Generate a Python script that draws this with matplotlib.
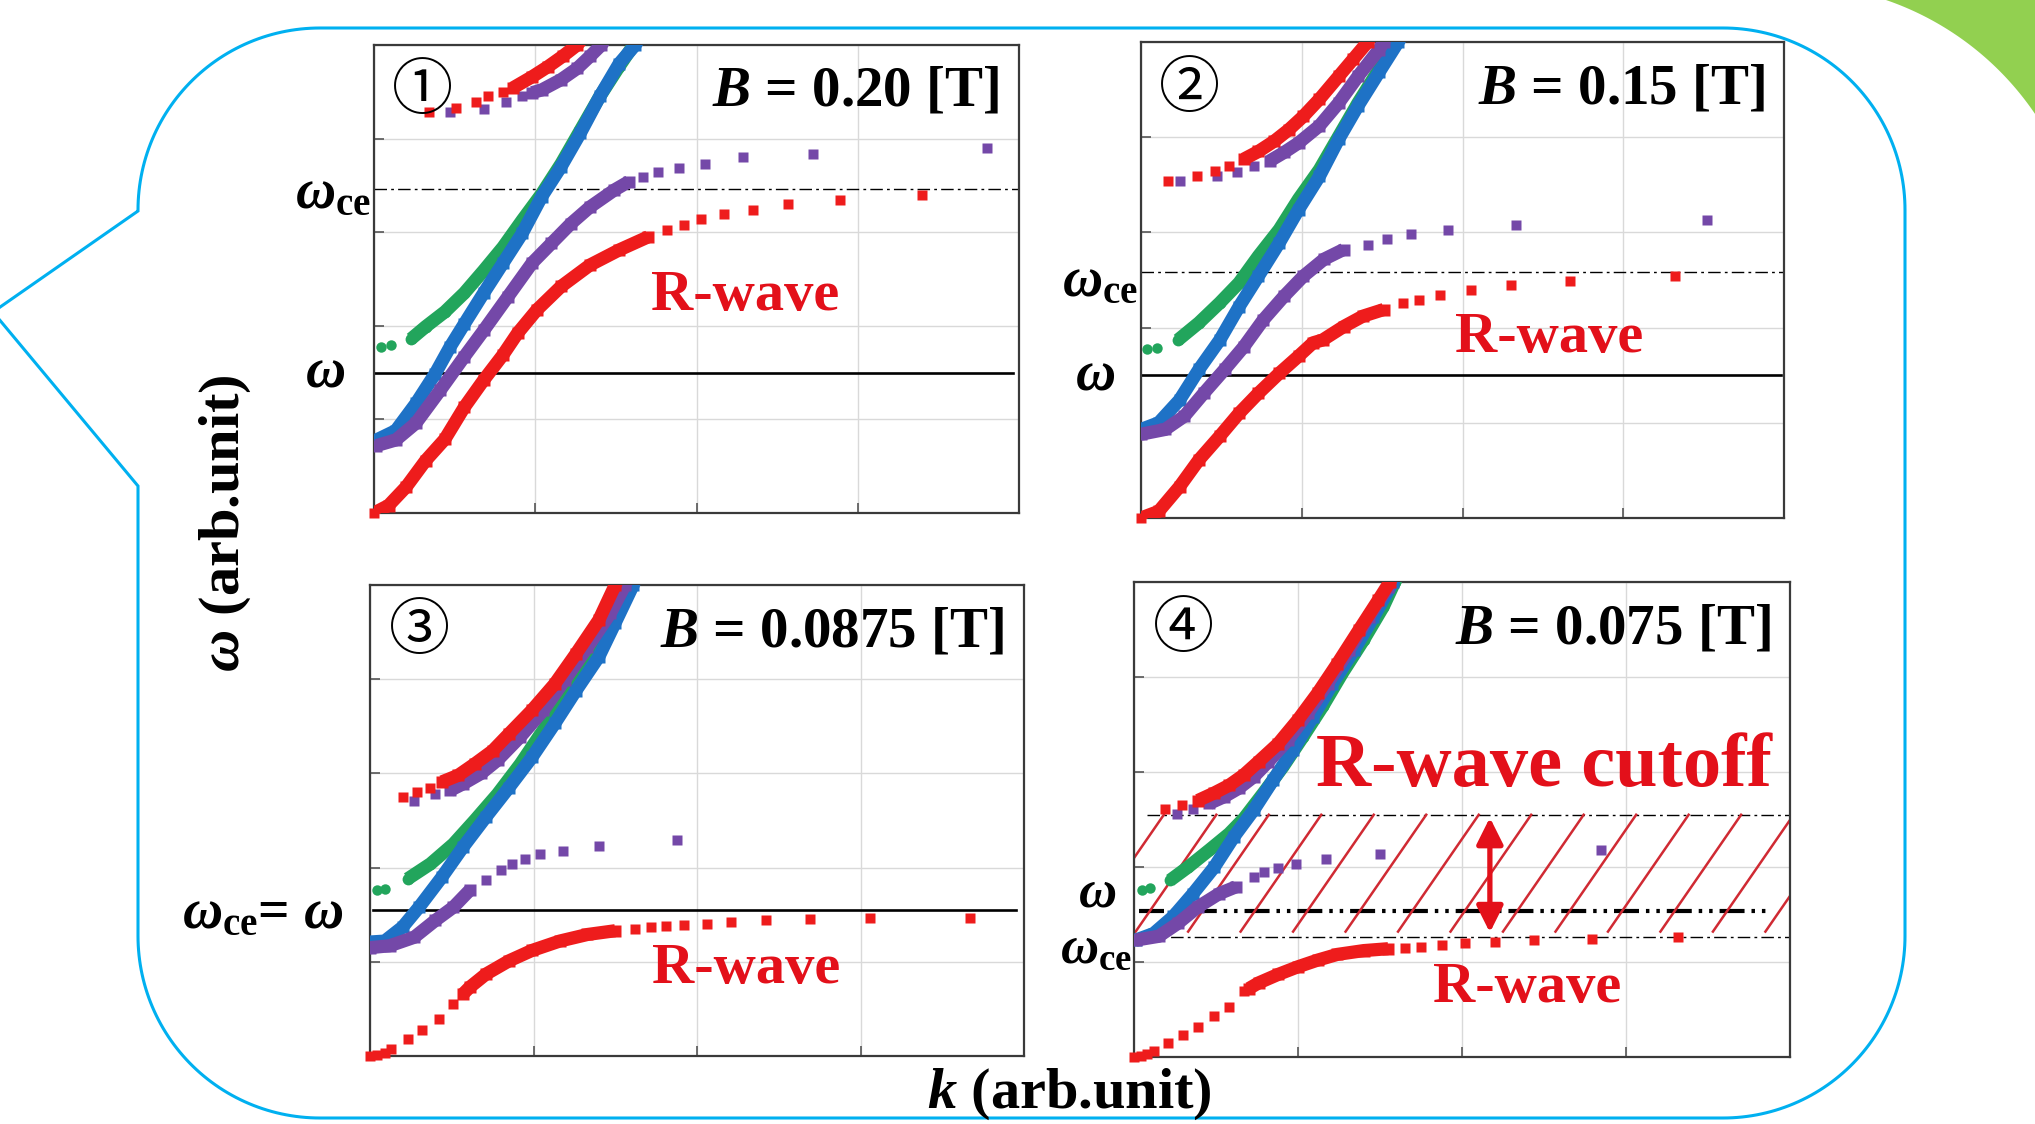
import numpy as np
import matplotlib
matplotlib.use("Agg")
import matplotlib.pyplot as plt
from matplotlib.patches import Polygon, FancyArrowPatch

W, H = 2035, 1124

plt.rcParams['mathtext.fontset'] = 'custom'
plt.rcParams['mathtext.rm'] = 'Liberation Serif:bold'
plt.rcParams['mathtext.it'] = 'Liberation Serif:italic:bold'
plt.rcParams['mathtext.bf'] = 'Liberation Serif:bold'
plt.rcParams['lines.scale_dashes'] = False

RED = '#ee1c1c'
PURPLE = '#7448a8'
GREEN = '#22a55c'
BLUE = '#1e72c6'
TEXT_RED = '#e3101a'
HATCH_RED = '#d02a33'
CYAN = '#00b0f0'
LIME = '#92d050'

# field strength of each panel, and the frequency levels (arb. unit)
B_FIELDS = ['0.20', '0.15', '0.0875', '0.075']
PANEL_TAGS = ['\u2460', '\u2461', '\u2462', '\u2463']
OMEGA = [1.5, 1.5, 1.55, 1.54]
OMEGA_CE = [3.46, 2.58, 1.55, 1.26]
CUTOFF_TOP = 2.55

# ---- B = 0.20 T ----
p1_red_lo = [(0.0, 0.0), (0.09, 0.08), (0.2, 0.28), (0.32, 0.56), (0.44, 0.79), (0.56, 1.13),
             (0.68, 1.42), (0.8, 1.69), (0.89, 1.92), (1.01, 2.17), (1.16, 2.42), (1.34, 2.65),
             (1.52, 2.81), (1.7, 2.95)]
p1_red_lo_dots = [(0.0, 0.0), (1.82, 3.02), (1.92, 3.08), (2.03, 3.14), (2.17, 3.19), (2.35, 3.24),
                  (2.57, 3.3), (2.89, 3.34), (3.4, 3.4)]
p1_red_hi = [(0.86, 4.54), (0.98, 4.66), (1.08, 4.77), (1.17, 4.88), (1.26, 5.0), (1.3, 5.08)]
p1_red_hi_dots = [(0.34, 4.28), (0.51, 4.33), (0.63, 4.39), (0.71, 4.45), (0.8, 4.5)]
p1_pur_hi = [(0.98, 4.49), (1.04, 4.52), (1.16, 4.63), (1.26, 4.75), (1.34, 4.88), (1.41, 5.0),
             (1.44, 5.08)]
p1_pur_hi_dots = [(0.47, 4.28), (0.68, 4.32), (0.82, 4.39), (0.92, 4.45)]
p1_green = [(0.23, 1.86), (0.32, 1.99), (0.44, 2.15), (0.56, 2.35), (0.68, 2.59), (0.8, 2.84),
            (0.92, 3.13), (1.04, 3.41), (1.16, 3.73), (1.28, 4.09), (1.4, 4.45), (1.52, 4.77),
            (1.61, 5.0), (1.64, 5.08)]
p1_green_dots = [(0.045, 1.77), (0.105, 1.79)]
p1_blue = [(0.015, 0.78), (0.135, 0.88), (0.26, 1.17), (0.38, 1.49), (0.47, 1.77), (0.56, 2.02),
           (0.68, 2.35), (0.8, 2.67), (0.92, 2.99), (1.04, 3.38), (1.16, 3.7), (1.28, 4.06),
           (1.4, 4.45), (1.52, 4.8), (1.62, 5.0), (1.65, 5.08)]
p1_pur_lo = [(0.015, 0.72), (0.135, 0.78), (0.26, 0.96), (0.41, 1.31), (0.56, 1.67), (0.68, 1.95),
             (0.83, 2.31), (0.98, 2.67), (1.1, 2.88), (1.22, 3.09), (1.34, 3.27), (1.49, 3.45),
             (1.58, 3.54)]
p1_pur_lo_dots = [(1.67, 3.59), (1.76, 3.64), (1.89, 3.69), (2.05, 3.73), (2.29, 3.8), (2.72, 3.84),
                  (3.8, 3.9)]

# ---- B = 0.15 T ----
p2_red_lo = [(0.0, 0.0), (0.11, 0.07), (0.24, 0.33), (0.36, 0.61), (0.49, 0.86), (0.61, 1.1),
             (0.73, 1.31), (0.86, 1.52), (0.98, 1.7), (1.07, 1.84), (1.13, 1.87), (1.26, 2.01),
             (1.38, 2.12), (1.51, 2.19)]
p2_red_lo_dots = [(0.0, 0.0), (1.63, 2.26), (1.73, 2.29), (1.86, 2.34), (2.05, 2.39), (2.3, 2.45),
                  (2.67, 2.49), (3.32, 2.54)]
p2_red_hi = [(0.64, 3.77), (0.73, 3.85), (0.83, 3.96), (0.92, 4.08), (1.01, 4.22), (1.11, 4.4),
             (1.23, 4.64), (1.32, 4.82), (1.41, 5.0), (1.44, 5.08)]
p2_red_hi_dots = [(0.17, 3.54), (0.35, 3.59), (0.46, 3.64), (0.55, 3.7)]
p2_pur_hi = [(0.8, 3.75), (0.89, 3.84), (0.98, 3.94), (1.11, 4.12), (1.23, 4.36), (1.35, 4.64),
             (1.48, 4.92), (1.51, 5.0), (1.53, 5.08)]
p2_pur_hi_dots = [(0.24, 3.54), (0.47, 3.59), (0.6, 3.63), (0.7, 3.7)]
p2_green = [(0.23, 1.87), (0.36, 2.05), (0.49, 2.26), (0.61, 2.47), (0.73, 2.75), (0.86, 3.03),
            (0.98, 3.35), (1.11, 3.66), (1.23, 4.01), (1.35, 4.36), (1.48, 4.71), (1.59, 5.0),
            (1.62, 5.08)]
p2_green_dots = [(0.04, 1.77), (0.1, 1.79)]
p2_blue = [(0.0, 0.93), (0.11, 1.0), (0.24, 1.24), (0.36, 1.56), (0.49, 1.87), (0.61, 2.22),
           (0.73, 2.54), (0.86, 2.89), (0.98, 3.24), (1.11, 3.59), (1.23, 3.98), (1.35, 4.33),
           (1.48, 4.68), (1.6, 5.0), (1.63, 5.08)]
p2_pur_lo = [(0.0, 0.88), (0.15, 0.93), (0.27, 1.07), (0.39, 1.31), (0.52, 1.56), (0.64, 1.8),
             (0.76, 2.08), (0.89, 2.33), (1.01, 2.54), (1.14, 2.72), (1.26, 2.82)]
p2_pur_lo_dots = [(1.41, 2.87), (1.53, 2.93), (1.68, 2.98), (1.91, 3.03), (2.33, 3.08), (3.52, 3.13)]

# ---- B = 0.0875 T ----
p3_red_lo = [(0.57, 0.66), (0.61, 0.73), (0.71, 0.87), (0.85, 1.01), (0.99, 1.12), (1.16, 1.22),
             (1.33, 1.29), (1.5, 1.33)]
p3_red_lo_dots = [(0.0, 0.0), (0.04, 0.01), (0.09, 0.03), (0.13, 0.07), (0.23, 0.18), (0.32, 0.28),
                  (0.42, 0.39), (0.51, 0.55), (1.62, 1.35), (1.72, 1.37), (1.81, 1.38), (1.92, 1.39),
                  (2.06, 1.4), (2.21, 1.42), (2.42, 1.44), (2.69, 1.45), (3.06, 1.46), (3.67, 1.47)]
p3_red_hi = [(0.44, 2.91), (0.54, 2.98), (0.64, 3.1), (0.75, 3.24), (0.85, 3.42), (0.99, 3.67),
             (1.13, 3.95), (1.26, 4.27), (1.4, 4.63), (1.5, 5.0), (1.52, 5.08)]
p3_red_hi_dots = [(0.2, 2.75), (0.29, 2.8), (0.37, 2.85)]
p3_pur_hi = [(0.49, 2.82), (0.57, 2.89), (0.68, 3.0), (0.78, 3.14), (0.92, 3.39), (1.06, 3.67),
             (1.19, 3.99), (1.33, 4.34), (1.47, 4.7), (1.56, 5.0), (1.58, 5.08)]
p3_pur_hi_dots = [(0.27, 2.71), (0.4, 2.78)]
p3_green = [(0.23, 1.88), (0.37, 2.04), (0.51, 2.25), (0.64, 2.5), (0.78, 2.78), (0.92, 3.1),
            (1.06, 3.46), (1.19, 3.81), (1.33, 4.17), (1.47, 4.56), (1.57, 5.0), (1.59, 5.08)]
p3_green_dots = [(0.04, 1.76), (0.09, 1.77)]
p3_blue = [(0.0, 1.21), (0.09, 1.22), (0.2, 1.37), (0.3, 1.58), (0.44, 1.9), (0.57, 2.22),
           (0.71, 2.54), (0.85, 2.85), (0.99, 3.17), (1.13, 3.53), (1.26, 3.88), (1.4, 4.24),
           (1.5, 4.6), (1.61, 5.0), (1.63, 5.08)]
p3_pur_lo = [(0.0, 1.15), (0.12, 1.17), (0.27, 1.26), (0.4, 1.44), (0.51, 1.58), (0.61, 1.76)]
p3_pur_lo_dots = [(0.71, 1.87), (0.8, 1.97), (0.87, 2.04), (0.95, 2.09), (1.04, 2.14), (1.18, 2.18),
                  (1.4, 2.23), (1.88, 2.29)]

# ---- B = 0.075 T ----
p4_red_lo = [(0.7, 0.72), (0.76, 0.78), (0.88, 0.87), (1.0, 0.95), (1.12, 1.02), (1.24, 1.08),
             (1.4, 1.12), (1.55, 1.14)]
p4_red_lo_dots = [(0.0, 0.0), (0.04, 0.01), (0.08, 0.03), (0.12, 0.06), (0.21, 0.15), (0.3, 0.23),
                  (0.39, 0.32), (0.49, 0.43), (0.58, 0.53), (0.67, 0.69), (1.65, 1.15), (1.75, 1.16),
                  (1.88, 1.18), (2.02, 1.2), (2.2, 1.21), (2.44, 1.23), (2.79, 1.24), (3.32, 1.26)]
p4_red_hi = [(0.39, 2.7), (0.49, 2.78), (0.58, 2.86), (0.67, 2.97), (0.76, 3.11), (0.88, 3.3),
             (1.0, 3.55), (1.12, 3.83), (1.24, 4.14), (1.37, 4.49), (1.49, 4.81), (1.56, 5.0),
             (1.58, 5.08)]
p4_red_hi_dots = [(0.19, 2.61), (0.29, 2.65)]
p4_pur_hi = [(0.46, 2.67), (0.55, 2.74), (0.64, 2.83), (0.73, 2.95), (0.82, 3.11), (0.94, 3.34),
             (1.06, 3.62), (1.18, 3.93), (1.31, 4.28), (1.43, 4.63), (1.55, 4.95), (1.57, 5.08)]
p4_pur_hi_dots = [(0.26, 2.56), (0.36, 2.61)]
p4_green = [(0.22, 1.86), (0.33, 2.0), (0.46, 2.18), (0.58, 2.35), (0.67, 2.51), (0.79, 2.78),
            (0.91, 3.06), (1.03, 3.37), (1.15, 3.69), (1.27, 4.04), (1.4, 4.39), (1.52, 4.74),
            (1.59, 5.0), (1.61, 5.08)]
p4_green_dots = [(0.05, 1.76), (0.1, 1.78)]
p4_blue = [(0.01, 1.23), (0.12, 1.3), (0.24, 1.48), (0.36, 1.72), (0.49, 2.0), (0.61, 2.32),
           (0.73, 2.6), (0.85, 2.92), (0.97, 3.23), (1.09, 3.58), (1.21, 3.93), (1.34, 4.28),
           (1.46, 4.63), (1.58, 5.0), (1.6, 5.08)]
p4_pur_lo = [(0.01, 1.23), (0.15, 1.27), (0.27, 1.41), (0.39, 1.58), (0.52, 1.72), (0.62, 1.79)]
p4_pur_lo_dots = [(0.73, 1.9), (0.79, 1.95), (0.88, 1.99), (0.99, 2.03), (1.17, 2.08), (1.5, 2.14),
                  (2.85, 2.18)]

MS = 7.5      # marker size (pt)
LW = 9.5      # width of the densely sampled parts (pt)
SERIF = 'Liberation Serif'


def branch(ax, pts, color, marker='s', z=3):
    # densely sampled part of a dispersion branch
    k, w = np.array(pts).T
    ax.plot(k, w, color=color, lw=LW, solid_capstyle='butt',
            solid_joinstyle='round', zorder=z)
    ax.plot(k, w, ls='none', marker=marker, ms=MS + 1, mec='none', color=color, zorder=z)


def dots(ax, pts, color, marker='s', z=3):
    k, w = np.array(pts).T
    ax.plot(k, w, ls='none', marker=marker, ms=MS, mec='none', color=color,
            zorder=z, clip_on=False)


def frame(ax):
    ax.set_xlim(0, 4)
    ax.set_ylim(0, 5)
    ax.set_xticks(range(5))
    ax.set_yticks(range(6))
    ax.set_xticklabels([])
    ax.set_yticklabels([])
    ax.tick_params(direction='in', length=7, width=1.2, color='#555555')
    ax.grid(color='#d9d9d9', lw=1.0)
    ax.set_axisbelow(True)
    for s in ax.spines.values():
        s.set_color('#3a3a3a')
        s.set_linewidth(1.6)


def arc(cx, cy, r, a0, a1, n=60):
    t = np.radians(np.linspace(a0, a1, n))
    return np.c_[cx + r * np.cos(t), cy + r * np.sin(t)]


fig = plt.figure(figsize=(W / 100, H / 100), dpi=100)
fig.patch.set_facecolor('white')

# speech-bubble outline and corner decoration, in pixel coordinates
bg = fig.add_axes([0, 0, 1, 1])
bg.set_xlim(0, W)
bg.set_ylim(H, 0)
bg.axis('off')
R = 182
outline = np.vstack([
    [[320, 28], [1723, 28]],
    arc(1723, 210, R, -90, 0),
    [[1905, 936]],
    arc(1723, 936, R, 0, 90),
    [[320, 1118]],
    arc(320, 936, R, 90, 180),
    [[138, 486], [-7, 312], [138, 211]],
    arc(320, 210, R, 180, 270),
])
bg.add_patch(Polygon(outline, closed=True, fill=False, edgecolor=CYAN, lw=2.2))
corner = np.vstack([arc(1790, 280, 296, -71.1, -34.1), [[2040, 114], [2040, -5], [1886, -5]]])
bg.add_patch(Polygon(corner, closed=True, facecolor=LIME, edgecolor='none'))

boxes = [(374, 45, 1019, 513), (1141, 42, 1784, 518),
         (370, 585, 1024, 1056), (1134, 582, 1790, 1057)]
axes = []
for x0, y0, x1, y1 in boxes:
    ax = fig.add_axes([x0 / W, 1 - y1 / H, (x1 - x0) / W, (y1 - y0) / H])
    frame(ax)
    axes.append(ax)

panels = [
    (p1_green, p1_green_dots, p1_blue, p1_pur_lo, p1_pur_lo_dots, p1_pur_hi, p1_pur_hi_dots,
     p1_red_lo, p1_red_lo_dots, p1_red_hi, p1_red_hi_dots),
    (p2_green, p2_green_dots, p2_blue, p2_pur_lo, p2_pur_lo_dots, p2_pur_hi, p2_pur_hi_dots,
     p2_red_lo, p2_red_lo_dots, p2_red_hi, p2_red_hi_dots),
    (p3_green, p3_green_dots, p3_blue, p3_pur_lo, p3_pur_lo_dots, p3_pur_hi, p3_pur_hi_dots,
     p3_red_lo, p3_red_lo_dots, p3_red_hi, p3_red_hi_dots),
    (p4_green, p4_green_dots, p4_blue, p4_pur_lo, p4_pur_lo_dots, p4_pur_hi, p4_pur_hi_dots,
     p4_red_lo, p4_red_lo_dots, p4_red_hi, p4_red_hi_dots),
]

dashdot = (0, (9, 3, 2, 3))
for i, (ax, p) in enumerate(zip(axes, panels)):
    g, gd, bl, plo, plod, phi, phid, rlo, rlod, rhi, rhid = p
    branch(ax, g, GREEN, 'o', 3)
    dots(ax, gd, GREEN, 'o', 3)
    branch(ax, bl, BLUE, 's', 4)
    branch(ax, plo, PURPLE, 's', 5)
    dots(ax, plod, PURPLE, 's', 5)
    branch(ax, phi, PURPLE, 's', 5)
    dots(ax, phid, PURPLE, 's', 5)
    branch(ax, rlo, RED, 's', 6)
    dots(ax, rlod, RED, 's', 6)
    branch(ax, rhi, RED, 's', 6)
    dots(ax, rhid, RED, 's', 6)

    ax.text(0.3, 4.5, PANEL_TAGS[i], ha='center', va='center', fontsize=44,
            family=['Noto Sans CJK JP', 'DejaVu Sans'], zorder=9)
    ax.text(3.88, 4.5, r'$B$ = ' + B_FIELDS[i] + ' [T]', ha='right', va='center',
            fontsize=41, family=SERIF, weight='bold', zorder=9)

lab = dict(family=SERIF, weight='bold', fontsize=40, clip_on=False)

# B = 0.20 T
ax = axes[0]
ax.plot([0, 3.96], [OMEGA[0]] * 2, color='black', lw=1.9, zorder=2)
ax.plot([0, 4], [OMEGA_CE[0]] * 2, color='black', lw=1.0, ls=dashdot, zorder=2)
ax.text(-0.02, OMEGA_CE[0] - 0.05, r'$\omega_{\mathrm{ce}}$', ha='right', va='center', **lab)
ax.text(-0.18, OMEGA[0], r'$\omega$', ha='right', va='center', **lab)
ax.text(2.3, 2.32, 'R-wave', ha='center', va='center', color=TEXT_RED, fontsize=42,
        family=SERIF, weight='bold')

# B = 0.15 T
ax = axes[1]
ax.plot([0, 3.98], [OMEGA[1]] * 2, color='black', lw=1.9, zorder=2)
ax.plot([0, 4], [OMEGA_CE[1]] * 2, color='black', lw=1.0, ls=dashdot, zorder=2)
ax.text(-0.02, OMEGA_CE[1] - 0.1, r'$\omega_{\mathrm{ce}}$', ha='right', va='center', **lab)
ax.text(-0.16, OMEGA[1], r'$\omega$', ha='right', va='center', **lab)
ax.text(2.54, 1.89, 'R-wave', ha='center', va='center', color=TEXT_RED, fontsize=42,
        family=SERIF, weight='bold')

# B = 0.0875 T : omega_ce equals omega
ax = axes[2]
ax.plot([0.02, 3.95], [OMEGA[2]] * 2, color='black', lw=1.9, zorder=2)
ax.text(-0.16, OMEGA[2] - 0.05, r'$\omega_{\mathrm{ce}}$= $\omega$', ha='right', va='center', **lab)
ax.text(2.3, 0.92, 'R-wave', ha='center', va='center', color=TEXT_RED, fontsize=42,
        family=SERIF, weight='bold')

# B = 0.075 T : cutoff band between omega_ce and the upper branch start
ax = axes[3]
lo, hi = 1.32, CUTOFF_TOP
slope = 2.5
for x0 in np.arange(2.89 - 0.32 * 12, 4.2, 0.32):
    ax.plot([x0, x0 + (hi - lo) / slope], [lo, hi], color=HATCH_RED, lw=1.8, zorder=2.5)
ax.plot([0.08, 4], [CUTOFF_TOP] * 2, color='black', lw=1.0, ls=dashdot, zorder=2)
ax.plot([0.08, 4], [OMEGA_CE[3]] * 2, color='black', lw=1.0, ls=dashdot, zorder=2)
ax.plot([0.03, 3.88], [OMEGA[3]] * 2, color='black', lw=3.0,
        ls=(0, (18, 5, 2.5, 5, 2.5, 5)), zorder=2)
ax.add_patch(FancyArrowPatch((2.17, 1.31), (2.17, 2.52), arrowstyle='<|-|>',
                             mutation_scale=40, lw=3.8, color=TEXT_RED, zorder=8,
                             shrinkA=0, shrinkB=0))
lab4 = dict(lab, fontsize=38)
ax.text(-0.11, 1.72, r'$\omega$', ha='right', va='center', **lab4)
ax.text(-0.01, 1.13, r'$\omega_{\mathrm{ce}}$', ha='right', va='center', **lab4)
ax.text(2.5, 3.05, 'R-wave cutoff', ha='center', va='center', color=TEXT_RED, fontsize=55,
        family=SERIF, weight='bold', zorder=9)
ax.text(2.4, 0.73, 'R-wave', ha='center', va='center', color=TEXT_RED, fontsize=42,
        family=SERIF, weight='bold')

fig.text(225 / W, 1 - 523 / H, r'$\omega$ (arb.unit)', rotation=90, ha='center', va='center',
         family=SERIF, weight='bold', fontsize=42)
fig.text(1069 / W, 1 - 1094 / H, r'$k$ (arb.unit)', ha='center', va='center',
         family=SERIF, weight='bold', fontsize=42)

fig.savefig('out.png', dpi=100, facecolor='white')
